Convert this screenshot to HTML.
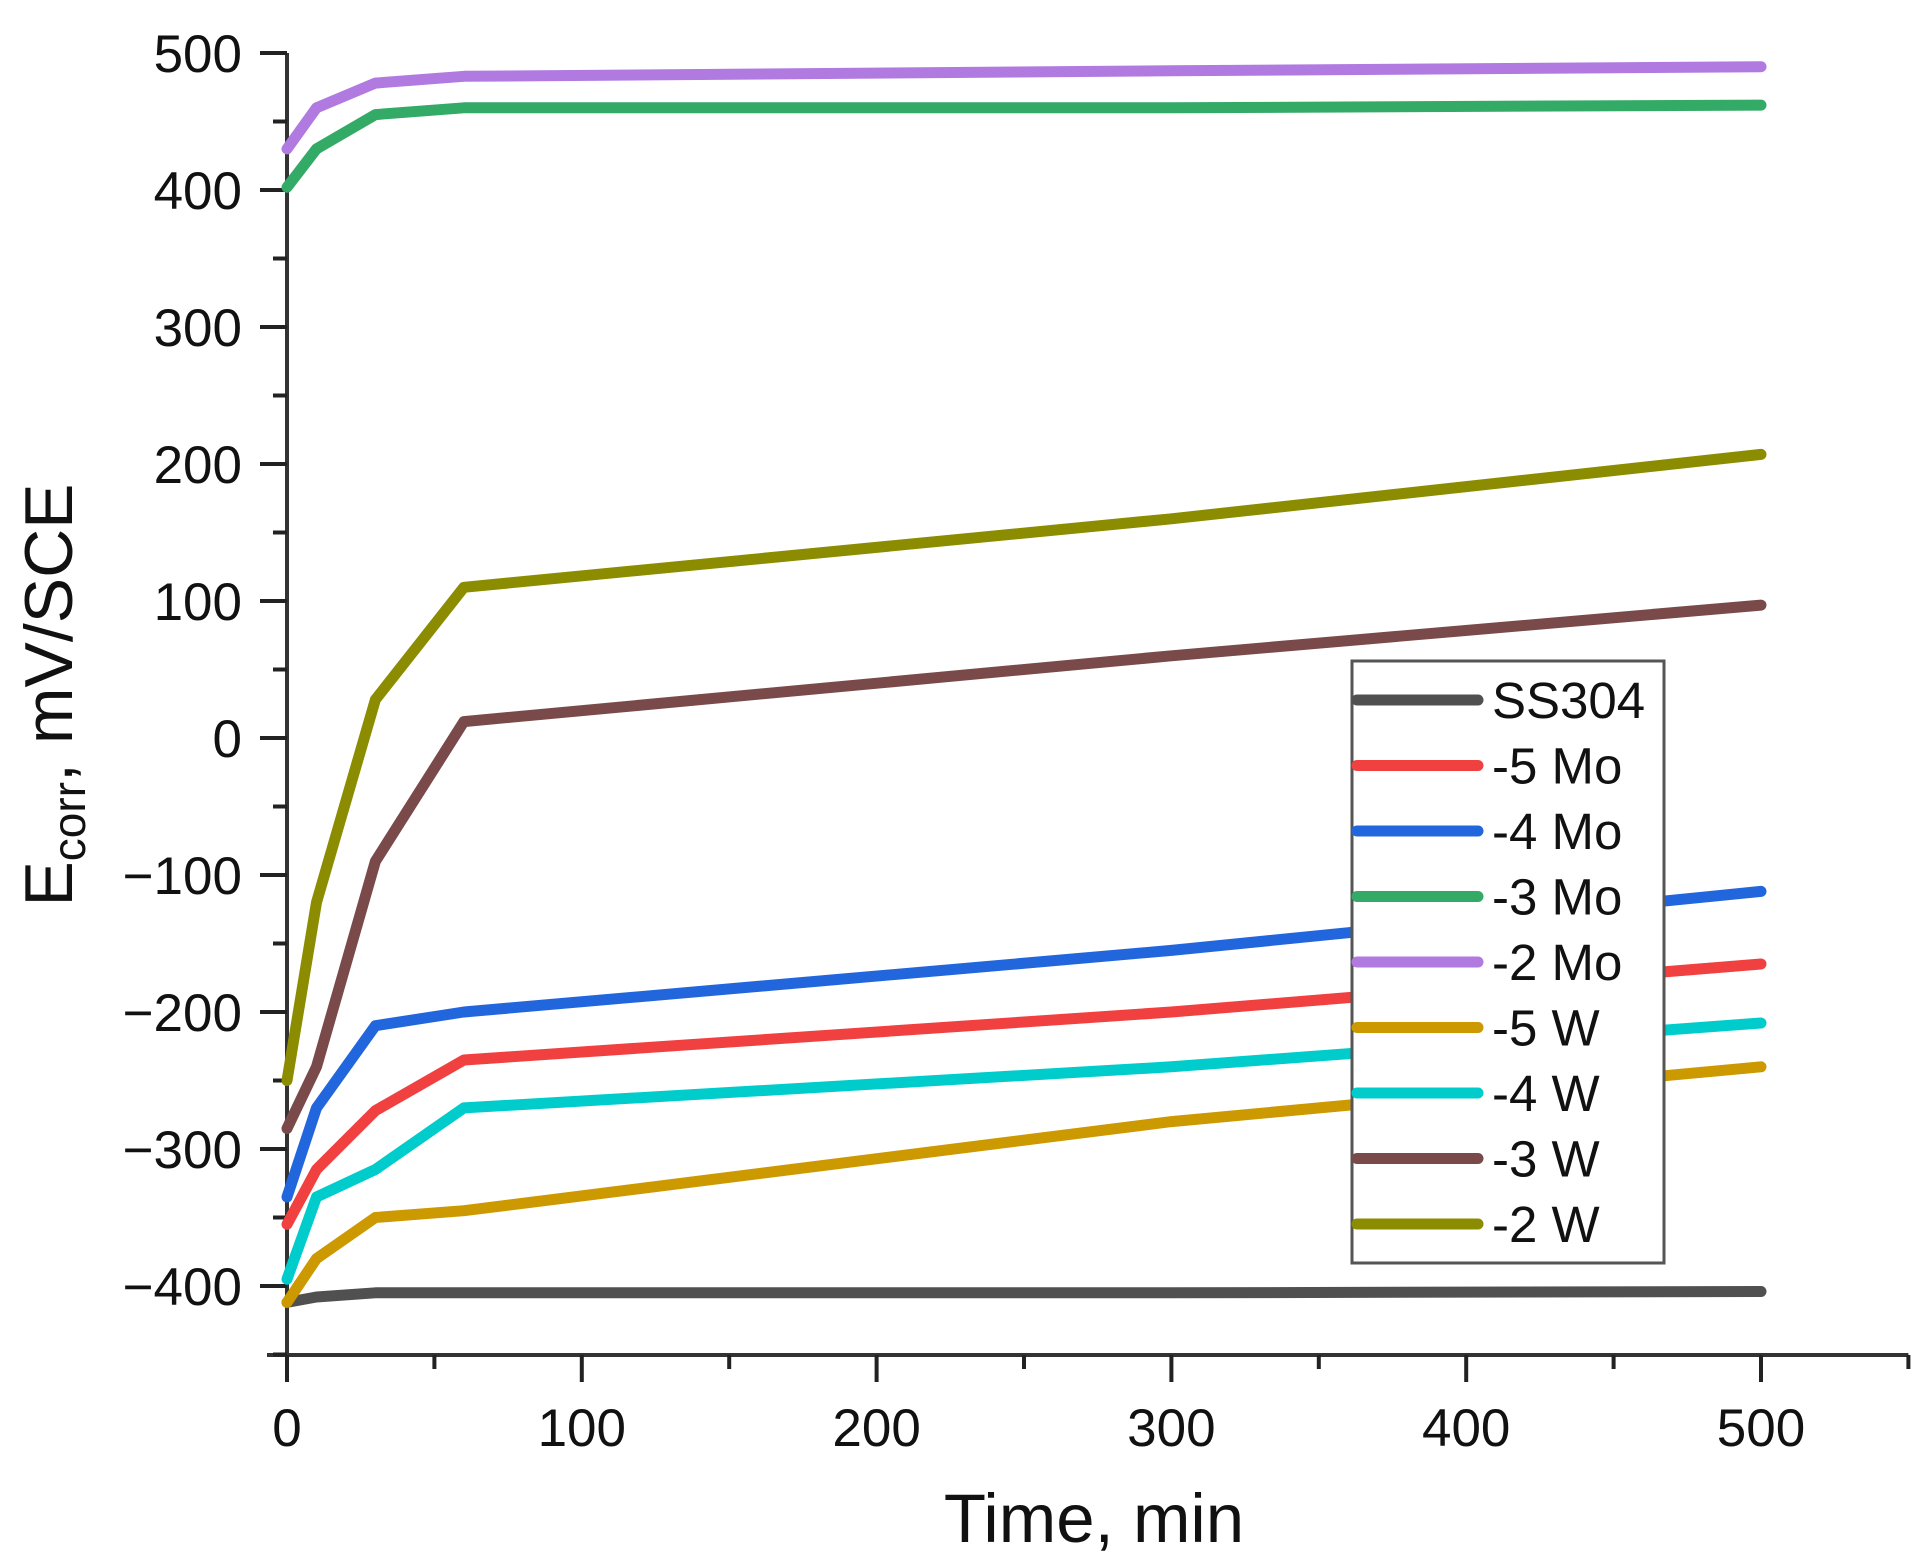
<!DOCTYPE html>
<html><head><meta charset="utf-8"><style>
html,body{margin:0;padding:0;background:#fff;}
svg{display:block;font-family:"Liberation Sans",Arial,sans-serif;}
</style></head><body>
<svg id="chart" width="1923" height="1564" viewBox="0 0 1923 1564" xmlns="http://www.w3.org/2000/svg">
<g id="axes"></g>
<g id="series"></g>
<g id="legend"></g>
<text x="72" y="695" font-size="68" text-anchor="middle" transform="rotate(-90 72 695)" fill="#111">E<tspan font-size="46" dy="13">corr</tspan><tspan dy="-13">, mV/SCE</tspan></text>
<text x="1094" y="1542" font-size="69" text-anchor="middle" fill="#111">Time, min</text>
</svg>
<script>
const times = [0, 10, 30, 60, 300, 500];
const seriesNames = ["SS304", "-5 Mo", "-4 Mo", "-3 Mo", "-2 Mo", "-5 W", "-4 W", "-3 W", "-2 W"];
const seriesColors = ["#505050", "#f04040", "#2266dd", "#33aa66", "#b07ae0", "#cc9900", "#00cccc", "#7a4a4a", "#8c8c00"];
const valsSS304 = [-412, -408, -405, -405, -405, -404];
const vals5Mo = [-355, -315, -272, -235, -200, -165];
const vals4Mo = [-335, -270, -210, -200, -155, -112];
const vals3Mo = [402, 430, 455, 460, 460, 462];
const vals2Mo = [430, 460, 478, 483, 487, 490];
const vals5W = [-412, -380, -350, -345, -280, -240];
const vals4W = [-395, -335, -315, -270, -240, -208];
const vals3W = [-285, -240, -90, 12, 60, 97];
const vals2W = [-250, -120, 28, 110, 160, 207];
const xTicks = [0, 100, 200, 300, 400, 500];
const yTicks = [-400, -300, -200, -100, 0, 100, 200, 300, 400, 500];

const allVals = [valsSS304, vals5Mo, vals4Mo, vals3Mo, vals2Mo, vals5W, vals4W, vals3W, vals2W];
const X0 = 287, XPX = 2.948;
const Y0 = 738, YPX = 1.37;
function sx(t){ return X0 + t * XPX; }
function sy(v){ return Y0 - v * YPX; }
const NS = "http://www.w3.org/2000/svg";
function mk(tag, parent){ const e = document.createElementNS(NS, tag); parent.appendChild(e); return e; }
const axes = document.getElementById('axes');
const yTop = sy(500), xAxisY = 1355, xEnd = sx(550);

let ax = mk('line', axes);


ax.setAttribute('x1', X0); ax.setAttribute('x2', X0); ax.setAttribute('y1', yTop); ax.setAttribute('y2', xAxisY);
ax.setAttribute('stroke', '#333'); ax.setAttribute('stroke-width', 4);
let bx = mk('line', axes);


bx.setAttribute('x1', X0 - 20); bx.setAttribute('x2', xEnd); bx.setAttribute('y1', xAxisY); bx.setAttribute('y2', xAxisY);
bx.setAttribute('stroke', '#333'); bx.setAttribute('stroke-width', 4);

for (let v = -450; v <= 500; v += 50) {
  const major = v % 100 === 0;
  const t = mk('line', axes);
  
  
  t.setAttribute('x1', X0 - (major ? 27 : 14)); t.setAttribute('x2', X0);
  t.setAttribute('y1', sy(v)); t.setAttribute('y2', sy(v));
  t.setAttribute('stroke', '#222'); t.setAttribute('stroke-width', 4);
}
yTicks.forEach(v => {
  const l = mk('text', axes);
  
  
  l.setAttribute('x', 242); l.setAttribute('y', sy(v) + 19);
  l.setAttribute('font-size', 53); l.setAttribute('text-anchor', 'end'); l.setAttribute('fill', '#111');
  l.textContent = v < 0 ? '\u2212' + Math.abs(v) : String(v);
});
for (let t0 = 0; t0 <= 550; t0 += 50) {
  const major = t0 % 100 === 0;
  const t = mk('line', axes);
  
  
  t.setAttribute('x1', sx(t0)); t.setAttribute('x2', sx(t0));
  t.setAttribute('y1', xAxisY); t.setAttribute('y2', xAxisY + (major ? 27 : 14));
  t.setAttribute('stroke', '#222'); t.setAttribute('stroke-width', 4);
}
xTicks.forEach(v => {
  const l = mk('text', axes);
  
  
  l.setAttribute('x', sx(v)); l.setAttribute('y', 1446);
  l.setAttribute('font-size', 53); l.setAttribute('text-anchor', 'middle'); l.setAttribute('fill', '#111');
  l.textContent = String(v);
});

const sg = document.getElementById('series');
allVals.forEach((vals, i) => {
  const p = mk('polyline', sg);
  
  
  p.setAttribute('points', vals.map((v, k) => sx(times[k]).toFixed(1) + ',' + sy(v).toFixed(1)).join(' '));
  p.setAttribute('fill', 'none'); p.setAttribute('stroke', seriesColors[i]);
  p.setAttribute('stroke-width', 11); p.setAttribute('stroke-linejoin', 'round'); p.setAttribute('stroke-linecap', 'round');
});

const lg = document.getElementById('legend');
const box = mk('rect', lg);


box.setAttribute('x', 1352); box.setAttribute('y', 661); box.setAttribute('width', 312); box.setAttribute('height', 602);
box.setAttribute('fill', '#fff'); box.setAttribute('stroke', '#555'); box.setAttribute('stroke-width', 3);
seriesNames.forEach((n, i) => {
  const y = 700 + i * 65.5;
  const ln = mk('line', lg);
  
  
  ln.setAttribute('x1', 1357); ln.setAttribute('x2', 1478); ln.setAttribute('y1', y); ln.setAttribute('y2', y);
  ln.setAttribute('stroke', seriesColors[i]); ln.setAttribute('stroke-width', 11); ln.setAttribute('stroke-linecap', 'round');
  const tx = mk('text', lg);
  
  
  tx.setAttribute('x', 1492); tx.setAttribute('y', y + 18);
  tx.setAttribute('font-size', 51); tx.setAttribute('fill', '#111');
  tx.textContent = n;
});
</script>
</body></html>
